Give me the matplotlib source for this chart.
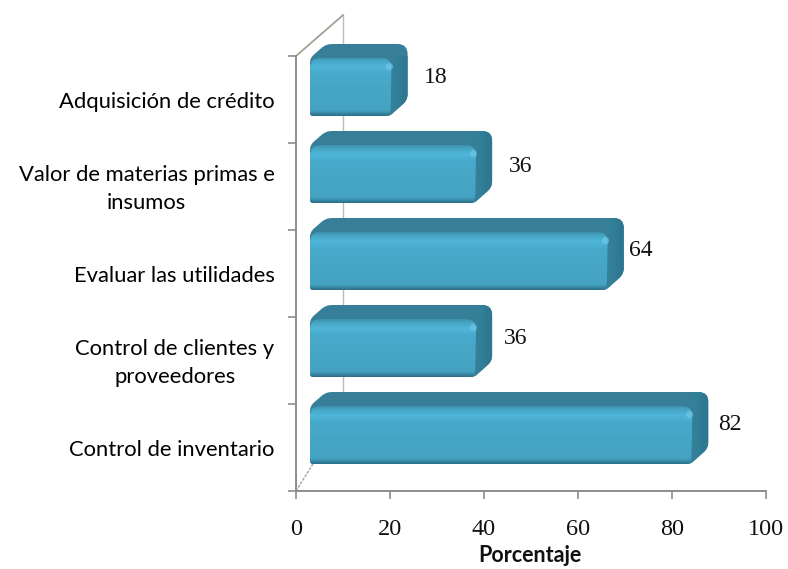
import numpy as np
import matplotlib as mpl
mpl.use('Agg')
import matplotlib.pyplot as plt
from matplotlib.path import Path
from matplotlib.patches import PathPatch

categories = ['Control de inventario', 'Control de clientes y\nproveedores', 'Evaluar las utilidades',
              'Valor de materias primas e\ninsumos', 'Adquisición de crédito']
values = [82, 36, 64, 36, 18]
x_ticks = [0, 20, 40, 60, 80, 100]
# label offsets from the bar end, pixels
label_dx = [21, 23, 17, 28, 28]
label_dy = [11, 10, 11, 8, 11]

W, H = 788, 569
AX_L, AX_B, AX_W, AX_H = 296, 78, 470, 435
SX = 100.0 / AX_W   # data units per pixel
SY = 5.0 / AX_H
DEPTH = 16          # bar depth, pixels
BAR_H = 58
BASE = 27           # bar bottom above its category floor
X_OFF = 14
LABEL_FONT = 'Lato'
NUM_FONT = 'Liberation Serif'


def rounded(points, radius):
    # closed path with rounded corners, points and radius in pixels
    pts = [np.array(p, float) for p in points]
    n = len(pts)
    verts, codes = [], []
    for i in range(n):
        p, prev, nxt = pts[i], pts[i - 1], pts[(i + 1) % n]
        r = radius[i]
        a = p + (prev - p) / np.linalg.norm(prev - p) * r
        b = p + (nxt - p) / np.linalg.norm(nxt - p) * r
        verts.append(a)
        codes.append(Path.MOVETO if i == 0 else Path.LINETO)
        verts += [p, b]
        codes += [Path.CURVE3, Path.CURVE3]
    verts.append(verts[0])
    codes.append(Path.CLOSEPOLY)
    verts = np.array(verts)
    return Path(np.column_stack([verts[:, 0] * SX, verts[:, 1] * SY]), codes)


def hex_rgb(c):
    return np.array(mpl.colors.to_rgb(c))


def front_image():
    # bottom to top
    stops_y = [0.0, 0.03, 0.09, 0.45, 0.72, 0.84, 0.95, 1.0]
    stops_c = ['#2c6f87', '#347f9b', '#45a2c2', '#47a6c6', '#48aacb', '#4fb6da', '#45a3c3', '#3d90ad']
    ys = np.linspace(0, 1, 120)
    col = np.stack([np.interp(ys, stops_y, [hex_rgb(c)[k] for c in stops_c]) for k in range(3)], axis=1)
    return col[:, None, :]


fig = plt.figure(figsize=(W / 100, H / 100), dpi=100)
ax = fig.add_axes([AX_L / W, AX_B / H, AX_W / W, AX_H / H])
ax.set_xlim(0, 100)
ax.set_ylim(0, 5)
ax.patch.set_alpha(0)

for s in ['top', 'right']:
    ax.spines[s].set_visible(False)
for s in ['left', 'bottom']:
    ax.spines[s].set_color('#8c8c8c')
    ax.spines[s].set_linewidth(1.4)

# back wall
ax.plot([10, 10], [0.52, 5.47], color='#bcbcbc', lw=1.0, clip_on=False, zorder=1)
ax.plot([0, 10], [5, 5.47], color='#a89f94', lw=1.3, clip_on=False, zorder=1)
ax.plot([0, 3.6], [0, 0.31], color='#a0a0a0', lw=1.0, ls=(0, (2, 1)), clip_on=False, zorder=1)

for i, v in enumerate(values):
    x0 = X_OFF
    x1 = X_OFF + v / SX - 3
    y0 = i * 87 + BASE
    y1 = y0 + BAR_H
    # top and side silhouette
    outline = [(x0, y0), (x1 - 2, y0), (x1 + DEPTH, y0 + DEPTH), (x1 + DEPTH, y1 + DEPTH - 2),
               (x0 + DEPTH, y1 + DEPTH - 2), (x0, y1)]
    radii = [3, 3, 6, 10, 6, 5]
    ax.add_patch(PathPatch(rounded(outline, radii), fc='#377f99', ec='none', zorder=3, clip_on=False))
    # side shading
    side = ax.imshow(np.array([[hex_rgb('#377f99'), hex_rgb('#32809b'), hex_rgb('#2e7891')]]),
                     extent=[(x1 - 6) * SX, (x1 + DEPTH) * SX, y0 * SY, (y1 + DEPTH) * SY],
                     aspect='auto', interpolation='bilinear', zorder=3.5)
    side.set_clip_path(PathPatch(rounded(outline, radii), transform=ax.transData))
    # front face
    face = [(x0, y0), (x1 - 1, y0), (x1, y1), (x0, y1)]
    img = ax.imshow(front_image(), extent=[x0 * SX, x1 * SX, y0 * SY, y1 * SY], aspect='auto',
                    origin='lower', interpolation='bilinear', zorder=4)
    img.set_clip_path(PathPatch(rounded(face, [3, 8, 10, 10]), transform=ax.transData))
    # corner highlight
    ax.scatter([(x1 - 3) * SX], [(y1 - 8) * SY], s=26, color='#74cbe6', alpha=0.6, lw=0, zorder=5)
    ax.annotate(str(v), xy=((x1 + DEPTH) * SX, y0 * SY), xytext=(label_dx[i], label_dy[i] + 28), textcoords='offset pixels',
                ha='center', va='center', fontsize=17, family=NUM_FONT, color='#111111', zorder=6)

ax.set_xlim(0, 100)
ax.set_ylim(0, 5)

ax.set_xticks(x_ticks)
ax.set_xticklabels([str(t) for t in x_ticks], family=NUM_FONT, fontsize=17.5, color='#111111')
ax.set_yticks(range(6))
ax.set_yticklabels([])
ax.tick_params(axis='both', length=6, width=1.2, color='#8c8c8c')
ax.tick_params(axis='x', pad=14)
for i, c in enumerate(categories):
    ax.text(-4.6, i + 0.5 - 0.03, c, ha='right', va='center', multialignment='center', fontsize=15.8,
            family=LABEL_FONT, color='#000000', linespacing=1.5)

ax.set_xlabel('Porcentaje', fontsize=15.5, fontweight='bold', family=LABEL_FONT, color='#111111')
ax.xaxis.set_label_coords((530 - AX_L) / AX_W, -0.125)

fig.savefig('out.png', dpi=100)
